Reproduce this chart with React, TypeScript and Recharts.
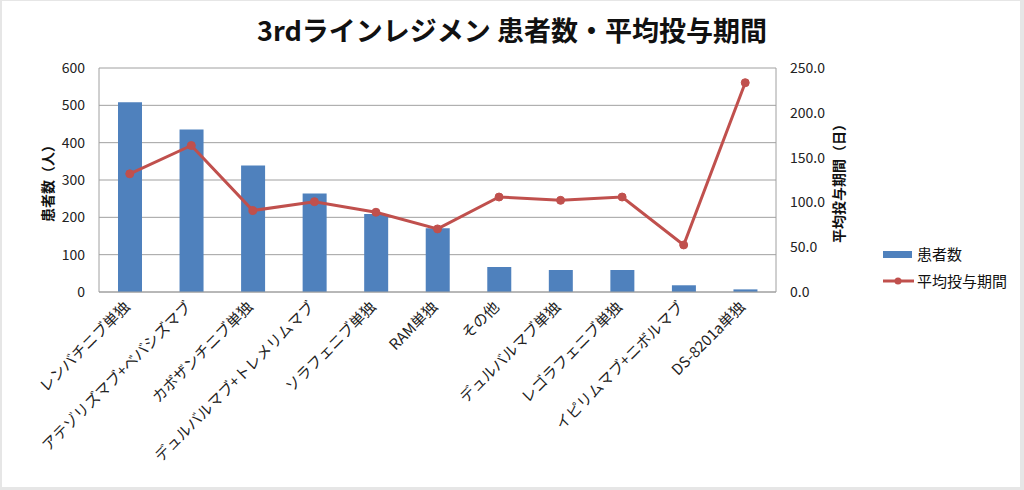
import React from "react";
import {
  ComposedChart,
  Bar,
  Line,
  XAxis,
  YAxis,
  CartesianGrid,
  Legend,
  Label,
} from "recharts";

const categories = [
  "レンバチニブ単独",
  "アテゾリズマブ+ベバシズマブ",
  "カボザンチニブ単独",
  "デュルバルマブ+トレメリムマブ",
  "ソラフェニブ単独",
  "RAM単独",
  "その他",
  "デュルバルマブ単独",
  "レゴラフェニブ単独",
  "イピリムマブ+ニボルマブ",
  "DS-8201a単独",
];
const patients = [508, 435, 339, 264, 209, 171, 67, 59, 59, 18, 7];
const avgDays = [131.9, 163.5, 90.9, 100.8, 89.0, 70.4, 106.0, 102.3, 106.0, 52.5, 233.6];
const leftTicks = [0, 100, 200, 300, 400, 500, 600];
const rightTicks = [0, 50, 100, 150, 200, 250];

const TITLE = "3rdラインレジメン 患者数・平均投与期間";
const SERIES_BAR = "患者数";
const SERIES_LINE = "平均投与期間";
const LEFT_LABEL = "患者数（人）";
const RIGHT_LABEL = "平均投与期間（日）";

const data = categories.map((name, i) => ({
  name,
  patients: patients[i],
  days: avgDays[i],
}));

const FONT = "'Noto Sans CJK JP', 'Noto Sans', sans-serif";
const BLUE = "#4F81BD";
const RED = "#C0504D";
const GRID = "#a0a0a0";

const XTick = (props: any) => {
  const { x, y, payload } = props;
  const px = x + 1;
  const py = y + 8;
  return (
    <text
      x={px}
      y={py}
      transform={`rotate(-45, ${px}, ${py})`}
      textAnchor="end"
      fontSize={15}
      fontFamily={FONT}
      fill="#222"
    >
      {payload.value}
    </text>
  );
};

const LegendContent = (props: any) => {
  const payload = [...(props.payload || [])].sort(
    (a: any, b: any) => (a.type === "rect" ? 0 : 1) - (b.type === "rect" ? 0 : 1)
  );
  return (
    <div style={{ fontFamily: FONT, fontSize: 15, color: "#111" }}>
      {payload.map((entry: any, i: number) => (
        <div
          key={i}
          style={{ display: "flex", alignItems: "center", height: 27 }}
        >
          <svg width={34} height={14} style={{ display: "block" }}>
            {entry.type === "rect" ? (
              <rect x={0} y={4} width={29} height={7} fill={BLUE} />
            ) : (
              <g>
                <line x1={0} y1={7} x2={31} y2={7} stroke={RED} strokeWidth={3} />
                <circle cx={15} cy={7} r={3.5} fill={RED} />
              </g>
            )}
          </svg>
          <span>{entry.value}</span>
        </div>
      ))}
    </div>
  );
};

export default function App() {
  return (
    <div
      style={{
        position: "fixed",
        left: 0,
        top: 0,
        width: 1024,
        height: 490,
        background: "#e6e6e6",
      }}
    >
      <div
        style={{
          position: "absolute",
          left: 2,
          top: 1,
          width: 1018,
          height: 486,
          background: "#ffffff",
        }}
      />
      <div
        style={{
          position: "absolute",
          left: 0,
          top: 13,
          width: 1024,
          textAlign: "center",
          fontFamily: FONT,
          fontWeight: 700,
          fontSize: 27,
          lineHeight: "34px",
          color: "#111",
        }}
      >
        {TITLE}
      </div>
      <div style={{ position: "absolute", left: 0, top: 0 }}>
        <ComposedChart
          width={1024}
          height={490}
          data={data}
          margin={{ top: 68, right: 168, bottom: 48, left: 39 }}
          barCategoryGap="30%"
        >
          <CartesianGrid vertical={false} stroke={GRID} strokeWidth={1} yAxisId="left" />
          <XAxis
            dataKey="name"
            interval={0}
            height={150}
            tick={<XTick />}
            tickLine={false}
            axisLine={{ stroke: GRID }}
          />
          <YAxis
            yAxisId="left"
            orientation="left"
            width={60}
            domain={[0, 600]}
            ticks={leftTicks}
            tickLine={false}
            tickSize={6}
            tickMargin={8}
            axisLine={{ stroke: GRID }}
            tick={{ fontSize: 14, fontFamily: FONT, fill: "#222" }}
          >
            <Label
              content={(p: any) => {
                const vb = p.viewBox || {};
                const cx = vb.x + 8;
                const cy = vb.y + vb.height / 2;
                return (
                  <text
                    x={cx}
                    y={cy}
                    transform={`rotate(-90, ${cx}, ${cy})`}
                    textAnchor="middle"
                    dominantBaseline="central"
                    fontSize={14}
                    fontWeight={700}
                    fontFamily={FONT}
                    fill="#111"
                  >
                    {LEFT_LABEL}
                  </text>
                );
              }}
            />
          </YAxis>
          <YAxis
            yAxisId="right"
            orientation="right"
            width={80}
            domain={[0, 250]}
            ticks={rightTicks}
            tickFormatter={(v: number) => v.toFixed(1)}
            tickLine={false}
            tickSize={6}
            tickMargin={8}
            axisLine={{ stroke: GRID }}
            tick={{ fontSize: 14, fontFamily: FONT, fill: "#222" }}
          >
            <Label
              content={(p: any) => {
                const vb = p.viewBox || {};
                const cx = vb.x + 62;
                const cy = vb.y + vb.height / 2;
                return (
                  <text
                    x={cx}
                    y={cy}
                    transform={`rotate(-90, ${cx}, ${cy})`}
                    textAnchor="middle"
                    dominantBaseline="central"
                    fontSize={14}
                    fontWeight={700}
                    fontFamily={FONT}
                    fill="#111"
                  >
                    {RIGHT_LABEL}
                  </text>
                );
              }}
            />
          </YAxis>
          <Legend
            layout="horizontal"
            align="center"
            verticalAlign="middle"
            content={<LegendContent />}
            wrapperStyle={{ position: "absolute", left: 883, top: 240, width: 140 }}
          />
          <Bar
            yAxisId="left"
            dataKey="patients"
            name={SERIES_BAR}
            fill={BLUE}
            barSize={24}
            legendType="rect"
            isAnimationActive={false}
          />
          <Line
            yAxisId="right"
            dataKey="days"
            name={SERIES_LINE}
            stroke={RED}
            strokeWidth={3}
            dot={{ r: 4, fill: RED, stroke: RED, strokeWidth: 1 }}
            legendType="circle"
            isAnimationActive={false}
          />
        </ComposedChart>
      </div>
    </div>
  );
}
